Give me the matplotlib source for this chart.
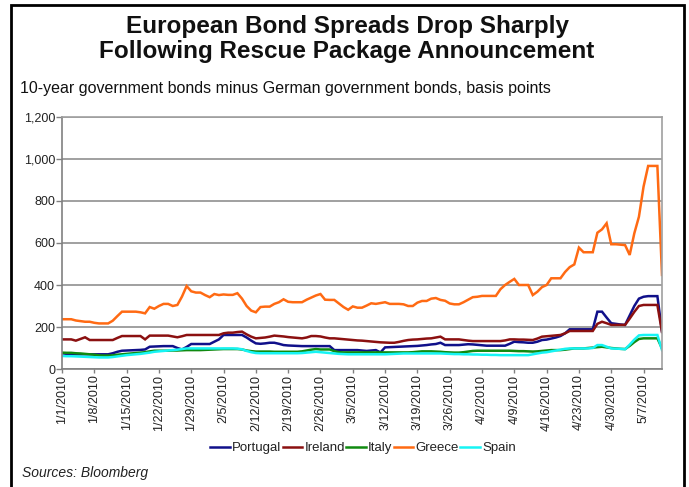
import matplotlib
matplotlib.use('Agg')
import matplotlib.pyplot as plt
import pandas as pd
from matplotlib.patches import Rectangle
from matplotlib.ticker import FuncFormatter

plt.rcParams['font.family'] = ['Liberation Sans', 'DejaVu Sans']

# ---------------- data (daily, from 1/1/2010) ----------------
start_date = '2010-01-01'

portugal = [
    75, 72, 72, 70, 70, 70, 70,
    70, 70, 70, 70, 75, 82, 87,
    88, 89, 90, 91, 93, 106, 107,
    108, 109, 109, 109, 100, 93, 105,
    119, 119, 119, 119, 119, 130, 141,
    162, 162, 162, 162, 162, 150, 135,
    122, 120, 122, 125, 125, 120, 114,
    112, 111, 110, 109, 109, 109, 109,
    109, 109, 109, 90, 90, 90, 90,
    90, 90, 88, 86, 88, 90, 79,
    103, 104, 105, 106, 107, 108, 109,
    110, 112, 114, 117, 119, 125, 114,
    114, 114, 114, 116, 118, 117, 115,
    113, 111, 111, 111, 111, 111, 120,
    130, 128, 127, 125, 125, 130, 138,
    140, 145, 150, 157, 170, 189, 189,
    189, 189, 189, 189, 273, 273, 245,
    218, 215, 212, 210, 255, 300, 335,
    344, 347, 347, 347, 178,
]

ireland = [
    141, 141, 141, 135, 143, 151, 138,
    138, 138, 138, 138, 138, 148, 157,
    157, 157, 157, 157, 141, 159, 159,
    159, 159, 159, 155, 151, 156, 162,
    162, 162, 162, 162, 162, 162, 162,
    170, 173, 173, 176, 178, 165, 154,
    146, 148, 150, 154, 159, 157, 155,
    152, 150, 148, 146, 150, 157, 157,
    155, 150, 146, 146, 144, 142, 140,
    138, 136, 135, 133, 131, 129, 127,
    126, 125, 125, 129, 134, 138, 140,
    141, 143, 145, 146, 150, 154, 141,
    141, 141, 141, 138, 135, 133, 133,
    133, 133, 133, 133, 133, 136, 141,
    141, 140, 140, 139, 138, 145, 154,
    156, 158, 160, 162, 170, 181, 181,
    181, 181, 181, 181, 215, 225, 218,
    210, 210, 210, 210, 240, 272, 300,
    305, 305, 305, 305, 176,
]

italy = [
    78, 77, 77, 75, 74, 72, 70,
    68, 65, 64, 64, 65, 68, 70,
    72, 74, 76, 78, 80, 84, 87,
    87, 87, 87, 88, 88, 89, 90,
    90, 90, 90, 91, 92, 93, 94,
    95, 95, 95, 95, 93, 88, 85,
    83, 83, 83, 83, 82, 82, 82,
    82, 82, 82, 84, 88, 92, 95,
    93, 93, 93, 85, 80, 79, 79,
    79, 79, 79, 79, 79, 79, 79,
    79, 79, 79, 79, 79, 79, 80,
    82, 84, 84, 84, 83, 82, 80,
    79, 78, 78, 80, 83, 86, 87,
    87, 87, 87, 87, 87, 87, 87,
    86, 85, 85, 84, 83, 84, 86,
    88, 90, 90, 90, 92, 95, 98,
    98, 98, 100, 102, 104, 106, 103,
    100, 98, 96, 95, 110, 128, 143,
    146, 146, 146, 146, 98,
]

greece = [
    237, 237, 237, 231, 228, 225, 225,
    220, 217, 217, 217, 230, 252, 273,
    273, 273, 273, 270, 265, 295, 287,
    300, 310, 310, 300, 305, 345, 395,
    370, 364, 364, 352, 342, 357, 352,
    355, 353, 353, 361, 335, 300, 278,
    270, 295, 297, 297, 310, 318, 332,
    320, 318, 318, 318, 330, 340, 350,
    357, 330, 329, 329, 312, 295, 282,
    298, 292, 292, 302, 313, 310, 314,
    318, 310, 310, 310, 308, 300, 300,
    316, 324, 324, 335, 338, 329, 325,
    312, 308, 308, 318, 330, 342, 344,
    348, 348, 348, 348, 380, 400, 415,
    429, 400, 400, 400, 352, 368, 390,
    400, 432, 432, 432, 462, 485, 498,
    578, 556, 556, 556, 649, 665, 694,
    594, 594, 592, 590, 543, 646, 725,
    868, 967, 967, 967, 448,
]

spain = [
    62, 61, 61, 60, 59, 58, 57,
    56, 55, 55, 55, 57, 60, 63,
    66, 68, 70, 72, 75, 78, 82,
    84, 86, 88, 90, 92, 95, 98,
    98, 98, 98, 98, 98, 98, 98,
    98, 98, 98, 97, 94, 86, 80,
    76, 75, 75, 75, 75, 75, 75,
    75, 75, 75, 76, 78, 80, 82,
    80, 78, 76, 74, 72, 71, 70,
    70, 70, 70, 70, 70, 70, 70,
    70, 71, 72, 73, 74, 74, 74,
    74, 74, 74, 74, 74, 74, 73,
    72, 71, 71, 70, 70, 69, 69,
    68, 68, 67, 67, 66, 66, 66,
    66, 66, 66, 66, 70, 74, 78,
    80, 84, 88, 92, 96, 98, 98,
    98, 98, 98, 100, 114, 114, 106,
    98, 97, 96, 94, 116, 140, 160,
    162, 162, 162, 162, 90,
]

series_names = ['Portugal', 'Ireland', 'Italy', 'Greece', 'Spain']
series_colors = ['#10108a', '#8b1010', '#108a10', '#ff6a13', '#16f4f4']

tick_labels = ['1/1/2010', '1/8/2010', '1/15/2010', '1/22/2010', '1/29/2010',
               '2/5/2010', '2/12/2010', '2/19/2010', '2/26/2010', '3/5/2010',
               '3/12/2010', '3/19/2010', '3/26/2010', '4/2/2010', '4/9/2010',
               '4/16/2010', '4/23/2010', '4/30/2010', '5/7/2010']
y_ticks = [0, 200, 400, 600, 800, 1000, 1200]

title = 'European Bond Spreads Drop Sharply\nFollowing Rescue Package Announcement'
subtitle = '10-year government bonds minus German government bonds, basis points'
source = 'Sources: Bloomberg'

# ---------------- figure ----------------
W, H = 689, 487
fig = plt.figure(figsize=(W / 100, H / 100), dpi=100)
fig.patch.set_facecolor('white')

ax = fig.add_axes([62 / W, 1 - 369 / H, (662 - 62) / W, (369 - 117) / H])

dates = pd.date_range(start_date, periods=len(greece), freq='D')
all_series = [portugal, ireland, italy, greece, spain]
for name, vals, col in zip(series_names, all_series, series_colors):
    ax.plot(dates, vals, color=col, lw=1.8, label=name, solid_joinstyle='miter')

ax.set_xlim(dates[0], dates[-1])
ax.set_ylim(y_ticks[0], y_ticks[-1])
ax.set_yticks(y_ticks)
ax.yaxis.set_major_formatter(FuncFormatter(lambda v, p: f'{int(v):,}'))

tick_dates = pd.to_datetime(tick_labels, format='%m/%d/%Y')
ax.set_xticks(tick_dates)
ax.set_xticklabels(tick_labels, rotation=90, va='top', ha='center')

ax.tick_params(axis='y', labelsize=9, length=4, width=1, color='#808080',
               pad=1, labelcolor='#222222')
ax.tick_params(axis='x', labelsize=9, length=3, width=1, color='#808080',
               pad=1, labelcolor='#222222')

ax.yaxis.grid(True, color='#a0a0a0', lw=1.4)
ax.set_axisbelow(True)
for s in ax.spines.values():
    s.set_color('#a0a0a0')
    s.set_linewidth(1.2)
ax.spines['left'].set_color('#808080')
ax.spines['bottom'].set_color('#808080')

# legend
leg = fig.legend(loc='center', bbox_to_anchor=(363 / W, 1 - 448 / H), ncol=5,
                 frameon=False, fontsize=9.5, handlelength=1.5, handletextpad=0.15,
                 columnspacing=0.1, borderpad=0)
for t in leg.get_texts():
    t.set_color('#222222')

# texts
fig.text(347 / W, 1 - 39 / H, title, ha='center', va='center',
         fontsize=17.5, fontweight='bold', linespacing=1.12, color='#111111')
fig.text(20 / W, 1 - 88 / H, subtitle, ha='left', va='center', fontsize=11.5,
         color='#111111')
fig.text(22 / W, 1 - 473 / H, source, ha='left', va='center', fontsize=10,
         style='italic', color='#222222')

# outer border
fig.patches.append(Rectangle((11 / W, -0.1), (684 - 11) / W, 1.1 - 5 / H,
                             transform=fig.transFigure, fill=False,
                             lw=2, ec='black'))

fig.savefig('out.png', dpi=100)
